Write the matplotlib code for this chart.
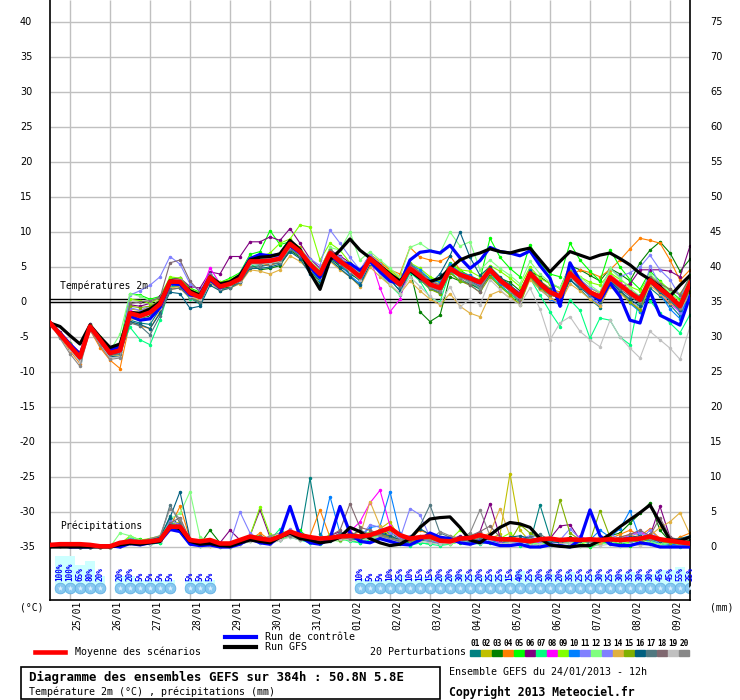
import matplotlib
matplotlib.use("Agg")
import matplotlib.pyplot as plt
import matplotlib.transforms as mtransforms
from matplotlib.lines import Line2D
from matplotlib.patches import Rectangle
import numpy as np

W, H = 740, 700
MONO = "DejaVu Sans Mono"

# forecast steps, 6h apart from the 24/01 12h run (0..384h)
hours = np.arange(0, 385, 6)

date_hours = [12, 36, 60, 84, 108, 132, 156, 180, 204, 228, 252, 276, 300, 324, 348, 372]
date_labels = ["25/01", "26/01", "27/01", "28/01", "29/01", "30/01", "31/01", "01/02",
               "02/02", "03/02", "04/02", "05/02", "06/02", "07/02", "08/02", "09/02"]

pert_colors = ["#008080", "#c0c000", "#008000", "#ff8000", "#00ff00", "#800080", "#00ff80",
               "#ff00ff", "#80ff00", "#0080ff", "#8080ff", "#80ff80", "#8080ff", "#e0b040",
               "#80b000", "#006080", "#507880", "#806870", "#c0c0c0", "#888888"]

# ---- temperature 2m (degC) ----
t_mean = [-3.0, -4.6, -6.3, -7.9, -3.5, -5.4, -7.3, -6.9, -1.6, -2.0, -1.5, -0.3, 2.9, 2.9, 1.3, 0.7,
          3.5, 2.2, 2.6, 3.3, 5.8, 5.8, 5.9, 6.2, 8.3, 7.2, 5.4, 4.0, 7.0, 5.8, 4.8, 3.6,
          6.2, 5.0, 3.7, 2.5, 4.8, 3.7, 2.5, 2.0, 4.8, 3.9, 3.4, 2.8, 4.6, 3.1, 2.0, 0.8,
          4.1, 2.6, 1.4, 0.8, 4.1, 2.7, 1.4, 0.7, 3.5, 2.4, 1.3, 0.3, 3.1, 1.9, 0.8, -0.6, 2.7]
t_ctrl = [-3.0, -4.4, -6.0, -7.5, -3.6, -5.2, -6.8, -6.4, -2.0, -2.6, -2.4, -0.8, 2.6, 2.5, 1.0, 0.8,
          3.2, 2.0, 2.8, 3.8, 6.2, 6.8, 6.6, 6.8, 8.0, 7.0, 5.0, 3.5, 6.6, 5.6, 5.5, 4.5,
          5.8, 4.3, 3.0, 2.6, 6.0, 7.1, 7.3, 7.0, 8.1, 6.3, 4.8, 5.9, 7.8, 7.2, 7.0, 6.6,
          7.3, 5.2, 3.4, -0.6, 5.6, 3.0, 1.3, 0.2, 2.7, 0.8, -2.6, -3.0, 1.5, -1.9, -2.6, -3.3, 0.8]
t_gfs = [-3.0, -3.5, -4.8, -6.0, -3.3, -5.0, -6.5, -6.0, -1.5, -1.6, -1.0, 0.0, 3.0, 2.8, 1.6, 1.0,
         3.6, 2.6, 2.9, 3.8, 6.0, 6.4, 6.5, 6.9, 8.8, 7.5, 4.2, 1.8, 6.0, 7.4, 9.0, 7.4,
         6.3, 5.2, 4.0, 3.0, 4.5, 3.4, 2.9, 3.4, 4.8, 6.0, 6.6, 7.0, 7.6, 7.2, 7.0, 7.4,
         7.7, 6.0, 4.3, 5.8, 7.2, 6.7, 6.2, 6.7, 7.0, 6.2, 5.3, 4.1, 3.2, 2.2, 0.8, 2.4, 3.8]
t_pert = [
    [-3.0, -4.9, -6.7, -8.4, -3.8, -5.9, -7.8, -7.5, -2.6, -3.0, -3.2, -1.0, 2.2, 2.4, 0.6, -0.3,
     3.0, 1.9, 2.1, 2.8, 5.0, 5.2, 5.3, 5.6, 7.6, 6.6, 4.6, 2.6, 6.4, 5.0, 4.2, 3.0,
     5.8, 4.4, 3.2, 1.6, 4.2, 3.2, 2.0, 1.2, 4.2, 3.0, 2.6, 1.8, 3.8, 2.4, 1.2, 0.0,
     3.4, 1.8, 0.6, -0.4, 3.2, 1.8, 0.4, -0.8, 2.6, 1.4, 0.2, -1.4, 2.0, 0.8, -0.4, -2.0, 1.2],
    [-3.0, -4.5, -6.0, -7.6, -3.4, -5.2, -7.0, -6.6, -1.0, -1.2, -0.8, 0.4, 3.2, 3.4, 1.8, 1.2,
     4.0, 2.6, 3.0, 3.8, 6.2, 6.0, 6.4, 6.8, 8.8, 7.8, 5.8, 4.4, 7.6, 6.2, 5.4, 4.2,
     6.8, 5.8, 4.6, 3.4, 5.6, 4.2, 3.0, 2.6, 5.2, 4.4, 3.8, 3.0, 5.0, 3.4, 2.4, 1.0,
     4.6, 3.0, 2.0, 1.4, 4.6, 3.2, 2.0, 1.2, 4.0, 2.8, 1.8, 0.6, 3.6, 2.4, 1.2, 0.2, 3.4],
    [-3.0, -4.7, -6.4, -8.0, -3.5, -5.6, -7.6, -7.2, -2.2, -2.4, -2.0, -0.8, 2.4, 2.2, 0.8, 0.2,
     3.0, 1.8, 2.2, 3.0, 5.4, 4.6, 4.8, 5.2, 7.4, 6.4, 4.6, 3.0, 6.2, 5.2, 4.0, 3.2,
     5.6, 4.6, 3.4, 2.2, 4.6, -1.4, -2.8, -1.9, 3.6, 3.0, 2.6, 2.0, 4.0, 3.4, 2.8, 1.6,
     4.4, 3.6, 2.6, 2.0, 5.2, 4.6, 3.8, 3.0, 4.8, 4.0, 3.0, 5.6, 7.4, 8.6, 7.0, 4.4, 6.1],
    [-3.0, -5.0, -7.0, -8.8, -4.0, -6.5, -8.3, -9.5, -2.8, -3.4, -3.8, -1.4, 1.8, 2.0, 0.6, 0.0,
     3.2, 2.0, 2.4, 3.0, 5.4, 5.6, 5.2, 5.8, 7.8, 6.6, 5.0, 3.6, 6.6, 5.8, 4.8, 3.8,
     6.6, 5.6, 4.6, 4.0, 7.8, 6.4, 6.0, 5.8, 6.6, 4.6, 3.2, 2.2, 4.2, 3.0, 1.8, 0.8,
     3.8, 2.6, 1.6, 1.4, 3.6, 4.6, 4.2, 3.6, 4.6, 6.0, 7.6, 9.1, 8.8, 8.4, 6.0, 3.1, 4.6],
    [-3.0, -4.4, -6.0, -7.4, -3.2, -5.0, -6.8, -6.2, 1.2, 1.0, 0.4, 0.8, 3.4, 3.4, 2.0, 1.4,
     4.0, 2.8, 3.4, 4.2, 6.8, 7.2, 10.2, 8.2, 8.6, 7.4, 5.6, 4.4, 7.6, 6.0, 5.0, 4.0,
     6.6, 5.0, 3.6, 2.8, 5.4, 4.2, 3.4, 2.8, 5.6, 4.6, 3.6, 3.2, 9.1, 6.4, 4.8, 3.6,
     8.2, 5.6, 4.0, 3.6, 8.4, 6.0, 4.4, 3.0, 7.5, 5.0, 3.2, 1.8, 4.4, 3.0, 1.6, 0.4, 3.8],
    [-3.0, -4.3, -5.9, -7.2, -3.2, -5.3, -7.1, -6.5, -0.4, -0.6, -0.2, 0.8, 3.2, 3.4, 2.2, 2.0,
     4.3, 4.0, 6.5, 6.5, 8.6, 8.6, 9.3, 8.8, 10.5, 8.4, 6.2, 4.8, 7.4, 6.6, 5.6, 4.4,
     6.8, 5.2, 4.0, 3.0, 5.0, 3.8, 2.8, 2.2, 5.2, 4.0, 3.2, 2.4, 4.8, 3.2, 2.0, 1.0,
     4.2, 2.8, 1.6, 1.0, 4.0, 2.6, 1.2, 0.4, 3.4, 2.2, 2.6, 4.6, 4.6, 4.6, 4.4, 3.6, 8.0],
    [-3.0, -4.6, -6.2, -7.6, -3.6, -5.6, -7.4, -7.0, -3.6, -5.4, -6.1, -2.6, 2.2, 2.6, 0.4, 0.2,
     3.4, 2.2, 2.4, 3.2, 5.2, 5.4, 5.6, 5.8, 7.6, 6.8, 5.6, 4.0, 7.2, 5.6, 4.4, 3.4,
     5.8, 4.0, 2.4, 1.0, 4.2, 3.0, 0.6, 0.0, 4.4, 3.0, 2.8, 2.0, 4.2, 2.2, 1.2, 0.0,
     3.4, 1.0, -1.4, -3.5, 0.3, -1.2, -5.2, -2.3, -2.6, -5.0, -6.1, 1.0, 0.2, -1.6, -3.0, -4.4, -1.8],
    [-3.0, -4.5, -6.1, -7.8, -3.4, -5.3, -7.2, -6.8, -1.2, -1.8, -1.0, -0.2, 3.0, 3.0, 1.6, 1.0,
     4.9, 2.6, 2.8, 3.4, 5.8, 6.2, 6.0, 6.4, 8.6, 7.4, 5.4, 4.2, 7.2, 6.0, 5.0, 3.8,
     6.4, 2.0, -1.4, 0.4, 5.2, 4.0, 2.4, 1.6, 5.0, 4.2, 3.6, 2.8, 4.4, 3.2, 2.2, 1.4,
     4.0, 2.2, 1.0, 0.6, 4.4, 3.0, 1.2, 1.2, 3.8, 2.8, 1.6, 0.4, 2.8, 1.2, -0.2, -1.4, 2.2],
    [-3.0, -4.4, -5.9, -7.4, -3.3, -5.0, -6.8, -6.4, 0.4, 0.2, -0.2, 0.6, 3.6, 3.4, 1.8, 1.2,
     3.8, 2.8, 3.2, 4.0, 6.4, 6.4, 7.0, 8.4, 9.0, 11.0, 10.7, 6.0, 8.4, 7.4, 5.6, 4.2,
     6.6, 5.2, 4.4, 3.2, 5.6, 4.8, 3.6, 3.0, 5.4, 4.6, 4.4, 3.6, 5.2, 4.4, 3.4, 2.2,
     5.0, 3.4, 2.6, 2.0, 4.6, 3.6, 2.8, 2.4, 4.2, 3.2, 2.2, 1.6, 3.8, 2.8, 1.8, 1.2, 3.0],
    [-3.0, -4.7, -6.5, -8.1, -3.7, -5.6, -7.5, -7.2, -1.8, -2.2, -1.6, -0.6, 2.6, 2.6, 1.2, 0.6,
     3.4, 2.0, 2.6, 3.2, 5.6, 5.8, 6.0, 6.4, 8.0, 6.8, 4.6, 3.2, 6.6, 5.4, 3.8, 2.6,
     6.0, 4.6, 3.2, 2.2, 5.4, 4.6, 3.2, 2.8, 5.4, 4.2, 3.8, 3.0, 4.4, 2.6, 1.6, 0.4,
     4.6, 2.4, 0.4, -0.4, 4.8, 2.6, 0.6, -0.4, 3.4, 1.8, -0.2, -1.4, 3.0, 1.2, -1.0, -2.4, 2.0],
    [-3.0, -4.6, -6.3, -7.9, -3.6, -5.9, -7.4, -7.0, 1.0, 1.6, 2.4, 3.6, 6.5, 5.4, 2.6, 1.6,
     4.0, 2.6, 3.0, 3.6, 6.0, 6.2, 6.4, 6.6, 8.2, 7.4, 6.2, 5.2, 10.3, 8.4, 6.4, 4.6,
     6.8, 5.4, 4.0, 2.6, 5.0, 4.0, 3.0, 2.4, 4.8, 3.8, 3.0, 2.2, 4.6, 3.4, 2.4, 1.2,
     4.2, 2.8, 1.8, 1.2, 4.6, 3.2, 2.0, 1.4, 4.8, 3.6, 4.2, 5.0, 6.7, 4.6, 3.2, 0.8, 3.0],
    [-3.0, -4.4, -6.1, -7.6, -3.4, -5.2, -7.0, -4.6, 1.2, 0.8, 0.2, 0.6, 3.0, 3.0, 1.6, 1.0,
     3.6, 2.6, 3.0, 3.6, 6.0, 6.2, 6.4, 6.8, 8.6, 7.6, 5.8, 4.6, 7.8, 7.4, 10.0, 6.0,
     7.2, 6.0, 4.8, 3.6, 7.8, 8.4, 7.4, 7.0, 10.0, 8.0, 8.6, 4.6, 6.0, 4.8, 3.8, 2.6,
     5.8, 4.0, 2.8, 2.0, 5.2, 3.6, 2.4, 1.4, 4.8, 3.4, 2.0, 0.8, 4.0, 2.6, 1.4, 0.0, 3.4],
    [-3.0, -4.5, -6.2, -7.8, -3.5, -5.4, -7.2, -6.8, -0.8, -1.2, -0.6, 0.2, 3.0, 3.2, 1.6, 1.0,
     3.6, 2.4, 2.8, 3.6, 6.2, 6.0, 6.2, 6.6, 8.4, 7.2, 5.4, 4.2, 7.2, 6.4, 5.2, 4.0,
     6.4, 5.0, 3.8, 3.0, 5.0, 3.6, 2.2, 1.6, 4.8, 3.6, 2.8, 2.4, 4.4, 3.0, 1.6, 0.4,
     3.8, 1.8, 0.6, -0.4, 3.8, 2.2, 0.8, -0.4, 3.2, 1.4, 0.2, -1.0, 5.2, 2.4, 0.4, -1.6, 1.8],
    [-3.0, -4.7, -6.4, -8.0, -3.6, -5.6, -7.6, -7.6, -2.4, -2.6, -2.2, -1.0, 2.0, 2.2, 0.8, 0.2,
     2.8, 1.6, 2.0, 2.6, 4.6, 4.4, 4.0, 4.6, 6.6, 5.8, 4.4, 2.4, 5.8, 4.6, 3.6, 2.2,
     5.0, 3.6, 2.4, 1.2, 3.0, 1.6, 0.4, -0.4, 1.2, -0.6, -1.6, -2.1, 1.0, 1.6, 0.6, -0.2,
     3.2, 1.8, 0.6, -0.2, 2.6, 1.6, 0.4, -0.6, 2.2, 1.2, 0.0, -1.0, 2.4, 1.2, -0.2, -1.0, 1.0],
    [-3.0, -4.6, -6.2, -7.8, -3.5, -5.4, -7.2, -6.8, -0.6, -0.8, -0.6, 0.2, 3.0, 2.8, 1.4, 0.8,
     3.6, 2.4, 2.6, 3.4, 5.8, 5.6, 5.6, 6.0, 8.0, 7.0, 5.2, 3.8, 6.8, 5.8, 4.6, 3.4,
     6.2, 4.8, 3.6, 2.6, 4.6, 3.2, 1.8, 1.2, 4.2, 3.0, 2.4, 1.4, 3.6, 2.2, 1.0, -0.4,
     3.6, 2.0, 1.0, 0.6, 4.4, 2.8, 1.4, 0.6, 3.0, 1.6, 0.0, -1.2, 3.2, 1.8, 0.4, -0.8, 1.6],
    [-3.0, -4.8, -6.6, -8.3, -3.8, -5.8, -7.8, -7.8, -2.8, -3.2, -3.8, -1.6, 1.4, 1.2, -0.9, -0.6,
     2.4, 1.6, 2.0, 2.8, 4.8, 4.8, 5.0, 5.4, 7.2, 6.2, 4.0, 2.4, 6.0, 4.8, 3.6, 2.4,
     5.4, 4.4, 3.2, 1.6, 4.4, 3.6, 2.6, 4.0, 6.6, 10.0, 6.4, 3.8, 5.0, 3.6, 2.4, 1.2,
     4.4, 3.0, 1.8, 0.4, 3.2, 2.0, 1.0, 0.0, 3.0, 1.6, 0.4, -0.6, 2.8, 1.4, 0.2, -1.2, 2.2],
    [-3.0, -4.8, -6.5, -8.2, -3.6, -5.6, -7.6, -7.4, -3.0, -3.4, -4.7, -2.0, 1.8, 2.0, 0.6, 0.0,
     3.0, 1.8, 2.0, 2.8, 5.0, 5.0, 5.4, 5.6, 7.6, 6.6, 4.8, 3.4, 6.2, 5.4, 4.2, 3.2,
     5.8, 4.6, 3.2, 2.2, 4.4, 3.2, 2.0, 1.4, 4.4, 3.6, 3.0, 2.2, 4.2, 2.8, 1.6, 0.6,
     3.8, 2.2, 1.2, 0.4, 3.8, 2.2, 1.0, 0.2, 3.2, 1.8, 0.8, -0.2, 2.8, 1.6, 0.2, -1.0, 2.4],
    [-3.0, -4.5, -6.1, -7.7, -3.4, -5.3, -7.1, -6.6, -0.2, 0.0, 0.2, 0.6, 5.6, 6.0, 3.0, 1.4,
     3.8, 2.4, 2.8, 3.6, 6.0, 5.8, 6.0, 6.2, 8.2, 7.4, 5.6, 4.2, 7.4, 6.2, 5.0, 3.8,
     6.4, 5.2, 4.0, 3.0, 5.4, 4.2, 3.0, 2.4, 5.0, 3.4, 2.4, 1.4, 4.4, 2.8, 1.6, 0.0,
     3.8, 2.4, 1.2, 0.6, 4.0, 2.6, 1.6, 1.0, 3.6, 2.4, 1.6, 0.8, 3.6, 2.6, 1.8, 1.0, 3.6],
    [-3.0, -4.9, -6.8, -8.6, -3.9, -6.0, -8.0, -7.8, -2.0, -2.4, -2.2, -0.8, 2.6, 2.4, 0.8, 0.4,
     3.2, 2.0, 2.4, 3.0, 5.4, 5.4, 5.6, 5.8, 7.8, 6.8, 5.0, 3.6, 6.4, 5.6, 4.4, 3.2,
     5.6, 4.0, 2.6, 1.2, 3.6, 2.2, 0.8, -0.2, 2.2, -0.7, 0.4, -0.4, 3.2, 1.8, 0.4, -0.4,
     2.0, -1.0, -5.4, -3.0, -2.1, -4.2, -5.4, -6.4, -2.6, -5.0, -6.6, -8.0, -4.2, -5.4, -6.6, -8.2, -3.5],
    [-3.0, -5.2, -7.4, -9.2, -4.0, -6.2, -8.2, -8.0, -1.4, -1.8, -1.2, -0.2, 3.0, 2.8, 1.2, 0.8,
     3.2, 2.2, 2.6, 3.2, 5.6, 5.4, 5.8, 6.0, 8.2, 7.0, 5.4, 4.2, 7.0, 5.8, 4.8, 3.4,
     6.0, 4.8, 3.6, 2.4, 4.6, 3.4, 2.2, 1.6, 4.6, 3.6, 2.8, 2.0, 4.2, 2.8, 1.6, 0.6,
     4.0, 2.6, 1.4, 0.8, 3.6, 2.4, 1.2, 0.6, 3.2, 2.2, 1.2, 0.2, 2.8, 1.8, 0.8, -0.8, 2.6],
]

# ---- precipitation (mm / 6h) ----
p_mean = [0.3, 0.4, 0.4, 0.4, 0.3, 0.1, 0.1, 0.6, 0.8, 0.7, 0.8, 1.0, 2.9, 2.9, 1.0, 0.8,
          1.0, 0.5, 0.5, 1.0, 1.5, 1.2, 1.0, 1.5, 2.2, 1.7, 1.4, 1.2, 1.3, 1.5, 1.6, 1.5,
          1.7, 2.2, 2.7, 1.7, 1.2, 1.4, 1.5, 0.9, 0.8, 1.2, 1.3, 1.7, 1.3, 1.1, 1.1, 1.0,
          0.8, 1.1, 1.2, 1.0, 1.1, 1.0, 1.1, 1.0, 1.1, 1.0, 1.1, 1.2, 1.5, 1.1, 0.9, 0.7, 0.5]
p_ctrl = [0.3, 0.3, 0.0, 0.0, 0.0, 0.2, 0.2, 0.0, 0.5, 0.3, 0.6, 0.8, 2.5, 2.2, 0.4, 0.2,
          0.3, 0.0, 0.0, 0.4, 1.2, 0.6, 0.4, 1.6, 5.8, 1.5, 0.6, 0.4, 1.2, 5.8, 2.0, 0.8,
          0.6, 1.2, 0.8, 0.4, 0.3, 1.0, 2.0, 1.4, 1.2, 0.6, 0.4, 0.8, 0.6, 0.2, 0.2, 0.4,
          0.0, 0.0, 0.3, 0.2, 0.0, 1.0, 5.3, 1.6, 0.4, 0.2, 0.2, 0.6, 0.4, 0.0, 0.0, 0.0, 0.0]
p_gfs = [0.0, 0.0, 0.0, 0.0, 0.0, 0.0, 0.0, 0.3, 0.5, 0.4, 0.6, 0.8, 3.0, 2.6, 0.8, 0.4,
         0.5, 0.2, 0.1, 0.6, 1.0, 0.8, 0.6, 1.4, 2.0, 1.2, 1.0, 0.6, 0.8, 1.4, 2.8, 2.2,
         1.2, 0.6, 0.2, 0.4, 1.2, 2.8, 4.0, 4.2, 4.3, 2.8, 1.0, 0.6, 1.7, 2.8, 3.5, 3.3,
         2.8, 1.2, 0.3, 0.1, 0.0, 0.2, 0.2, 0.9, 1.8, 2.9, 3.9, 4.9, 6.0, 3.5, 1.0, 0.9, 1.4]
p_pert = [
    [0.3, 0.3, 0.2, 0.0, 0.0, 0.0, 0.0, 0.2, 0.6, 0.4, 0.8, 1.2, 4.4, 3.0, 0.6, 0.3,
     0.4, 0.2, 0.0, 0.6, 1.2, 1.0, 0.8, 1.6, 2.0, 1.4, 9.8, 1.8, 0.8, 1.2, 1.4, 1.0,
     1.6, 2.4, 1.8, 0.8, 0.6, 1.0, 0.8, 0.4, 0.6, 1.2, 0.8, 1.4, 1.0, 0.6, 0.8, 1.2,
     0.6, 6.0, 1.4, 0.6, 0.8, 1.0, 0.4, 0.6, 0.8, 0.4, 0.6, 1.2, 1.0, 0.6, 0.4, 0.2, 0.0],
    [0.2, 0.2, 0.3, 0.2, 0.0, 0.0, 0.0, 0.4, 1.2, 0.6, 1.0, 0.8, 3.2, 3.6, 1.0, 0.4,
     0.6, 0.2, 0.2, 0.8, 1.4, 0.8, 1.2, 1.8, 2.4, 1.6, 1.2, 0.8, 1.4, 1.8, 2.2, 1.4,
     1.4, 2.6, 3.6, 1.2, 0.8, 1.4, 1.0, 0.6, 0.4, 0.8, 1.4, 2.0, 1.2, 1.8, 10.5, 2.4,
     0.8, 0.6, 1.0, 0.8, 1.2, 0.6, 0.8, 1.4, 0.6, 0.8, 1.2, 0.6, 1.8, 0.8, 0.6, 1.4, 0.8],
    [0.4, 0.3, 0.2, 0.0, 0.0, 0.0, 0.0, 0.6, 1.0, 1.0, 0.6, 0.8, 3.6, 2.4, 0.8, 0.4,
     2.4, 0.6, 0.2, 0.4, 0.8, 1.2, 0.6, 1.0, 1.8, 1.6, 0.8, 0.6, 1.0, 1.4, 2.0, 0.8,
     1.2, 1.6, 2.2, 1.0, 0.8, 1.6, 1.2, 0.4, 0.6, 1.0, 1.4, 0.8, 1.2, 1.0, 0.6, 1.0,
     0.8, 1.4, 0.6, 0.8, 1.4, 1.0, 0.6, 1.2, 1.6, 2.0, 3.4, 4.8, 6.3, 2.4, 0.8, 0.6, 1.0],
    [0.2, 0.3, 0.3, 0.0, 0.0, 0.0, 0.0, 0.2, 0.6, 0.8, 1.2, 1.4, 2.8, 5.8, 1.2, 0.4,
     0.2, 0.4, 0.0, 0.6, 1.0, 2.0, 1.0, 1.4, 1.8, 1.0, 1.6, 5.3, 1.4, 1.0, 1.6, 2.2,
     1.8, 1.4, 1.2, 0.8, 1.2, 2.4, 1.8, 1.0, 0.6, 1.4, 1.2, 0.6, 1.6, 1.0, 0.8, 0.4,
     1.2, 0.6, 0.8, 1.0, 0.6, 1.4, 0.8, 0.6, 1.2, 1.8, 2.4, 1.6, 2.6, 1.2, 0.4, 1.4, 2.0],
    [0.3, 0.3, 0.2, 0.0, 0.0, 0.0, 0.0, 0.4, 0.8, 1.2, 0.4, 0.6, 3.4, 2.6, 0.6, 0.2,
     0.4, 0.0, 0.4, 0.6, 1.4, 1.6, 0.8, 1.0, 1.6, 2.4, 1.0, 0.8, 1.2, 1.6, 1.0, 0.6,
     1.4, 1.8, 1.4, 0.6, 1.2, 0.6, 0.4, 1.0, 1.2, 0.6, 1.8, 0.8, 0.6, 1.0, 1.4, 0.8,
     0.6, 0.2, 0.8, 1.2, 0.6, 0.2, 0.0, 0.4, 0.8, 0.4, 0.2, 0.6, 0.4, 0.8, 0.6, 0.4, 0.2],
    [0.3, 0.2, 0.2, 0.0, 0.0, 0.0, 0.0, 0.2, 0.8, 0.6, 0.6, 1.0, 3.0, 3.4, 0.8, 0.4,
     0.8, 0.6, 2.4, 1.0, 1.6, 5.3, 1.4, 1.2, 2.2, 1.8, 1.2, 1.0, 1.6, 2.2, 1.4, 1.0,
     1.8, 2.2, 1.4, 0.8, 1.0, 1.4, 0.8, 0.6, 1.0, 1.6, 1.2, 2.2, 6.2, 1.4, 0.6, 1.0,
     1.4, 0.8, 1.2, 3.0, 3.2, 1.0, 0.8, 0.6, 1.2, 0.8, 1.4, 1.0, 1.6, 5.8, 1.4, 0.6, 0.8],
    [0.3, 0.3, 0.2, 0.0, 0.0, 0.0, 0.0, 0.4, 1.4, 0.8, 0.4, 0.6, 2.8, 3.0, 1.0, 0.2,
     0.4, 0.2, 0.0, 0.8, 1.2, 0.6, 1.0, 2.6, 1.4, 1.0, 0.6, 0.4, 1.0, 1.2, 0.8, 0.6,
     1.0, 1.4, 1.0, 0.4, 0.2, 0.6, 0.4, 0.2, 0.4, 0.8, 0.6, 0.4, 0.8, 0.6, 0.4, 0.2,
     0.4, 0.6, 0.2, 0.4, 0.8, 0.4, 0.2, 0.6, 0.4, 0.2, 0.6, 0.4, 0.8, 0.4, 0.2, 0.0, 0.2],
    [0.2, 0.3, 0.2, 0.0, 0.0, 0.0, 0.0, 0.2, 0.6, 0.8, 0.6, 1.0, 2.6, 3.2, 0.8, 0.6,
     0.4, 0.2, 0.6, 1.0, 1.4, 0.8, 0.6, 1.2, 2.4, 1.2, 0.8, 1.0, 1.4, 1.8, 2.2, 3.6,
     6.3, 8.1, 3.0, 1.4, 0.8, 1.2, 1.6, 0.6, 0.8, 1.0, 1.4, 0.8, 1.2, 0.6, 0.4, 0.8,
     1.0, 0.6, 1.4, 0.8, 1.0, 1.6, 0.8, 1.2, 1.4, 1.0, 1.8, 2.2, 1.4, 0.8, 0.4, 0.6, 0.6],
    [0.3, 0.4, 0.3, 0.0, 0.0, 0.0, 0.0, 0.4, 1.6, 1.0, 1.2, 1.6, 3.8, 2.6, 0.8, 0.4,
     0.6, 0.4, 0.2, 1.0, 1.6, 5.7, 1.8, 1.2, 1.8, 1.4, 1.0, 0.8, 1.8, 1.2, 1.0, 1.4,
     2.2, 1.8, 2.4, 1.6, 1.0, 1.2, 0.8, 1.4, 1.0, 2.4, 1.2, 0.8, 1.4, 1.2, 2.0, 0.6,
     1.0, 0.8, 0.6, 1.2, 1.0, 0.4, 0.8, 0.6, 1.0, 0.8, 0.6, 1.4, 1.0, 0.6, 0.8, 0.4, 0.6],
    [0.2, 0.3, 0.2, 0.0, 0.0, 0.0, 0.0, 0.2, 0.8, 0.6, 0.8, 1.0, 3.4, 3.0, 0.6, 0.4,
     0.4, 0.2, 0.2, 0.6, 1.0, 1.4, 1.0, 1.6, 1.6, 2.0, 1.4, 1.0, 7.2, 2.0, 1.6, 1.4,
     2.8, 3.0, 7.9, 2.0, 1.0, 1.4, 0.8, 1.0, 0.6, 0.8, 1.0, 1.6, 1.0, 0.4, 0.6, 0.8,
     0.4, 1.0, 0.6, 0.8, 0.4, 0.6, 1.0, 2.4, 1.4, 2.6, 5.2, 1.2, 0.8, 0.6, 0.4, 0.2, 0.4],
    [0.3, 0.3, 0.2, 0.0, 0.0, 0.0, 0.0, 0.3, 1.2, 0.8, 1.0, 1.4, 3.0, 2.8, 0.8, 0.2,
     0.6, 0.2, 0.6, 5.0, 2.0, 1.0, 1.4, 1.0, 2.6, 1.4, 1.0, 0.6, 1.2, 1.6, 1.2, 1.0,
     1.4, 2.0, 1.6, 1.2, 5.5, 4.6, 1.4, 1.0, 0.8, 1.2, 1.6, 1.0, 0.8, 1.4, 1.0, 1.2,
     1.6, 0.8, 0.6, 1.0, 2.6, 1.2, 0.8, 1.0, 1.4, 1.0, 1.6, 2.0, 1.2, 0.6, 1.0, 0.8, 0.4],
    [0.4, 0.3, 0.3, 0.0, 0.0, 0.0, 0.0, 2.0, 1.6, 1.0, 0.8, 1.2, 4.0, 4.8, 7.9, 1.4,
     0.8, 0.4, 0.2, 0.8, 1.4, 1.0, 0.8, 1.2, 1.6, 1.2, 1.4, 1.2, 1.0, 0.8, 1.2, 1.0,
     1.2, 1.6, 1.0, 0.8, 1.2, 1.4, 1.0, 0.6, 0.4, 0.8, 1.0, 0.6, 0.8, 0.4, 0.6, 0.8,
     0.6, 0.4, 0.8, 0.6, 0.4, 0.6, 0.8, 0.4, 0.6, 0.8, 0.4, 0.6, 0.8, 0.4, 0.6, 0.4, 0.2],
    [0.3, 0.2, 0.2, 0.0, 0.0, 0.0, 0.0, 0.2, 0.6, 0.6, 0.4, 0.8, 3.8, 3.2, 1.0, 0.4,
     0.6, 0.2, 0.4, 0.8, 1.2, 1.0, 0.6, 1.4, 2.2, 1.6, 1.0, 1.2, 1.4, 1.0, 1.6, 1.2,
     3.2, 2.8, 2.0, 1.4, 1.6, 1.2, 0.8, 0.6, 1.0, 1.2, 0.8, 0.6, 1.4, 1.0, 0.8, 0.6,
     1.2, 1.0, 0.8, 0.6, 1.0, 1.4, 1.0, 0.6, 1.8, 1.2, 0.8, 1.0, 2.4, 1.0, 0.6, 0.8, 0.6],
    [0.2, 0.3, 0.2, 0.0, 0.0, 0.0, 0.0, 0.2, 0.8, 0.6, 0.6, 1.0, 3.0, 2.6, 0.6, 0.4,
     0.2, 0.2, 0.2, 0.6, 1.2, 0.8, 1.0, 1.6, 2.0, 1.4, 1.2, 0.8, 1.6, 1.4, 1.8, 1.6,
     6.5, 3.0, 1.6, 1.0, 0.8, 1.2, 1.4, 1.0, 1.6, 1.2, 1.0, 1.4, 2.0, 5.5, 1.6, 1.0,
     0.8, 1.2, 1.0, 0.6, 0.8, 1.0, 1.2, 0.6, 1.0, 1.4, 1.8, 1.2, 1.6, 2.8, 3.6, 4.9, 1.8],
    [0.3, 0.3, 0.2, 0.0, 0.0, 0.0, 0.0, 0.3, 0.8, 0.6, 0.6, 0.8, 3.2, 3.0, 0.8, 0.4,
     0.4, 0.2, 0.2, 0.8, 1.2, 1.0, 0.8, 1.4, 1.8, 1.2, 1.0, 0.8, 1.2, 1.0, 1.4, 1.0,
     1.6, 1.8, 1.4, 1.0, 0.8, 1.0, 1.2, 0.8, 1.0, 0.8, 1.2, 1.6, 1.4, 1.0, 0.8, 3.2,
     2.0, 1.2, 1.0, 6.7, 2.0, 1.0, 0.8, 5.2, 1.4, 0.8, 1.0, 0.6, 1.2, 0.8, 0.6, 0.4, 0.4],
    [0.2, 0.3, 0.2, 0.0, 0.0, 0.0, 0.0, 0.3, 1.0, 0.8, 1.0, 1.4, 4.2, 7.9, 1.2, 0.6,
     0.8, 0.4, 0.2, 0.8, 1.0, 1.2, 1.0, 1.6, 2.0, 1.6, 1.2, 1.0, 1.4, 1.6, 1.2, 1.0,
     1.8, 2.0, 1.6, 1.0, 1.4, 2.6, 1.8, 1.2, 1.0, 1.4, 1.0, 0.8, 1.2, 1.0, 1.4, 1.6,
     1.2, 1.0, 0.8, 0.6, 1.0, 0.8, 1.2, 1.0, 0.8, 1.2, 1.4, 1.6, 1.2, 0.8, 1.0, 1.2, 1.6],
    [0.3, 0.3, 0.2, 0.0, 0.0, 0.0, 0.0, 0.2, 0.6, 0.6, 0.8, 1.2, 6.0, 3.4, 0.8, 0.4,
     0.4, 0.2, 0.4, 0.6, 1.0, 1.4, 1.2, 1.4, 1.8, 1.4, 1.0, 0.8, 1.2, 2.0, 1.6, 2.4,
     1.8, 1.6, 1.2, 0.8, 1.2, 3.0, 6.0, 2.0, 1.4, 1.0, 0.8, 1.2, 1.6, 1.0, 1.2, 0.8,
     1.4, 1.8, 1.0, 0.8, 1.2, 1.0, 0.6, 1.0, 1.2, 0.8, 1.0, 1.4, 1.8, 1.2, 0.8, 0.6, 0.6],
    [0.2, 0.3, 0.2, 0.0, 0.0, 0.0, 0.0, 0.2, 0.8, 0.8, 0.6, 1.0, 3.4, 4.2, 1.0, 0.4,
     0.4, 0.2, 0.6, 0.8, 1.2, 1.6, 1.0, 1.4, 1.6, 1.4, 1.2, 1.0, 1.6, 2.4, 6.2, 2.8,
     2.4, 1.8, 1.2, 0.8, 1.0, 1.4, 1.6, 1.0, 0.8, 1.2, 1.6, 2.2, 3.0, 1.4, 1.0, 0.8,
     1.0, 1.4, 1.2, 0.8, 1.2, 1.0, 0.8, 1.2, 1.0, 1.4, 1.8, 2.4, 1.6, 4.2, 1.4, 1.0, 0.8],
    [0.2, 0.2, 0.2, 0.0, 0.0, 0.0, 0.0, 0.2, 0.6, 0.6, 0.4, 0.8, 2.6, 2.4, 0.6, 0.2,
     0.2, 0.0, 0.0, 0.4, 0.8, 0.6, 0.4, 1.0, 1.4, 1.0, 0.8, 0.6, 1.0, 1.2, 1.0, 0.8,
     1.2, 1.4, 1.0, 0.6, 0.4, 0.8, 0.6, 0.4, 0.6, 0.8, 0.4, 0.6, 0.8, 0.4, 0.6, 0.4,
     0.2, 0.4, 0.2, 0.4, 0.6, 0.2, 0.4, 0.2, 0.4, 0.2, 0.4, 0.2, 0.4, 0.2, 0.0, 0.2, 0.0],
    [0.3, 0.3, 0.2, 0.0, 0.0, 0.0, 0.0, 0.4, 1.0, 0.8, 1.2, 1.6, 5.5, 4.0, 0.8, 0.6,
     0.6, 0.4, 0.2, 0.8, 1.2, 1.0, 1.6, 2.0, 1.6, 1.2, 1.0, 0.8, 1.2, 1.4, 1.2, 1.6,
     2.0, 1.6, 1.2, 1.0, 1.4, 1.2, 1.0, 2.2, 1.6, 1.2, 2.0, 5.3, 1.6, 1.2, 1.0, 0.8,
     1.2, 1.0, 1.4, 0.8, 1.0, 1.2, 0.8, 1.0, 1.2, 0.8, 1.0, 1.4, 1.2, 1.0, 0.8, 0.6, 0.4],
]

# snow probability (%) shown under the chart, by forecast step index
snow_steps = [1, 2, 3, 4, 5, 7, 8, 9, 10, 11, 12, 14, 15, 16,
              31, 32, 33, 34, 35, 36, 37, 38, 39, 40, 41, 42, 43, 44, 45, 46, 47,
              48, 49, 50, 51, 52, 53, 54, 55, 56, 57, 58, 59, 60, 61, 62, 63, 64]
snow_pct = [100, 100, 65, 80, 20, 20, 20, 5, 5, 5, 5, 5, 5, 5,
            10, 5, 5, 10, 25, 10, 15, 15, 20, 20, 30, 25, 20, 25, 25, 15, 40,
            25, 20, 30, 20, 35, 25, 25, 30, 25, 30, 35, 30, 30, 45, 45, 55, 35]

PRECIP_ZERO = -35     # precip 0 mm sits on the -35 degC line, same scale


def fx(px):
    return px / W


def fy(py):
    return 1 - py / H


def t_of_py(py):
    # temperature value at a given pixel row (7 px per degree, 0 at row 302)
    return (302 - py) / 7.0


fig = plt.figure(figsize=(W / 100, H / 100), dpi=100)
fig.patch.set_facecolor("white")
ax = fig.add_axes([fx(50), fy(600), fx(690) - fx(50), fy(0) - fy(600)])
ax.set_xlim(0, 384)
ax.set_ylim(t_of_py(600), t_of_py(0))
ax.set_xticks([])
ax.set_yticks([])
ax.spines["top"].set_visible(False)
for s in ("left", "right", "bottom"):
    ax.spines[s].set_linewidth(1.2)
    ax.spines[s].set_color("black")

ax.hlines(np.arange(-35, 41, 5), 0, 384, color="#c0c0c0", lw=1, zorder=0)
ax.vlines(date_hours, t_of_py(600), t_of_py(0), color="#c0c0c0", lw=1, zorder=0)
ax.axhline(0.05, color="black", lw=1, zorder=1)
ax.axhline(0.42, color="black", lw=1, zorder=1)

# ensemble members
for k in range(20):
    ax.plot(hours, t_pert[k], color=pert_colors[k], lw=0.8, marker=".", ms=3, zorder=2)
    ax.plot(hours, np.array(p_pert[k]) + PRECIP_ZERO, color=pert_colors[k], lw=0.8,
            marker=".", ms=3, zorder=2)

ax.plot(hours, t_ctrl, color="#0000ff", lw=2.3, zorder=3)
ax.plot(hours, np.array(p_ctrl) + PRECIP_ZERO, color="#0000ff", lw=2.3, zorder=3)
ax.plot(hours, t_gfs, color="black", lw=2.3, zorder=3.5)
ax.plot(hours, np.array(p_gfs) + PRECIP_ZERO, color="black", lw=2.3, zorder=3.5)
ax.plot(hours, t_mean, color="#ff0000", lw=3.3, zorder=4)
ax.plot(hours, np.array(p_mean) + PRECIP_ZERO, color="#ff0000", lw=3.3, zorder=4)

ax.text(10 * 0.6, t_of_py(286), "Températures 2m", family=MONO, fontsize=7,
        va="center", ha="left", zorder=5)
ax.text(10 * 0.6, t_of_py(526), "Précipitations", family=MONO, fontsize=7,
        va="center", ha="left", zorder=5)

# snow probability strip
snow_h = [hours[i] for i in snow_steps]
box_bottom = t_of_py(593)
box_height = [(12 + 0.25 * p) / 7.0 for p in snow_pct]
ax.bar(snow_h, box_height, bottom=box_bottom, width=6, color="#ccffff",
       edgecolor="none", zorder=1.5)
flake_y = t_of_py(588)
ax.scatter(snow_h, [flake_y] * len(snow_h), s=60, color="#86c8f0", edgecolor="#5aa8e0",
           linewidths=0.5, zorder=2.5)
ax.scatter(snow_h, [flake_y] * len(snow_h), s=18, marker="*", color="#d8f0ff",
           linewidths=0, zorder=2.6)
for h, p in zip(snow_h, snow_pct):
    ax.text(h, t_of_py(581), f"{p}%", rotation=90, ha="center", va="bottom",
            color="#0000ff", fontsize=5.5, family=MONO, fontweight="bold", zorder=3)

# axis labels
ytrans = mtransforms.blended_transform_factory(fig.transFigure, ax.transData)
for v in range(-35, 41, 5):
    ax.text(fx(20), v, str(v), transform=ytrans, ha="left", va="center",
            fontsize=7, clip_on=False)
    ax.text(fx(710), v, str(v + 35), transform=ytrans, ha="left", va="center",
            fontsize=7, clip_on=False)

xtrans = mtransforms.blended_transform_factory(ax.transData, fig.transFigure)
for h, lab in zip(date_hours, date_labels):
    ax.text(h + 1.2, fy(601), lab, transform=xtrans, rotation=90, ha="left", va="top",
            family=MONO, fontsize=7, clip_on=False)

fig.text(fx(20), fy(607), "(°C)", family=MONO, fontsize=7, va="center", ha="left")
fig.text(fx(710), fy(608), "(mm)", family=MONO, fontsize=7, va="center", ha="left")

# legend
fig.add_artist(Line2D([fx(35), fx(65)], [fy(651.5)] * 2, color="#ff0000", lw=3.3))
fig.text(fx(75), fy(652), "Moyenne des scénarios", family=MONO, fontsize=7.2, va="center")
fig.add_artist(Line2D([fx(225), fx(256)], [fy(636.5)] * 2, color="#0000ff", lw=3.0))
fig.text(fx(265), fy(637), "Run de contrôle", family=MONO, fontsize=7.2, va="center")
fig.add_artist(Line2D([fx(225), fx(256)], [fy(646.5)] * 2, color="black", lw=3.0))
fig.text(fx(265), fy(647), "Run GFS", family=MONO, fontsize=7.2, va="center")
fig.text(fx(370), fy(652), "20 Perturbations", family=MONO, fontsize=7.2, va="center")
for k, c in enumerate(pert_colors):
    x0 = 470 + 11 * k
    fig.add_artist(Rectangle((fx(x0), fy(655.5)), fx(10), 5.5 / H, color=c,
                             transform=fig.transFigure))
    fig.text(fx(x0 + 5), fy(643.5), f"{k + 1:02d}", family=MONO, fontsize=5.6,
             ha="center", va="center", fontweight="bold")

# title box
fig.add_artist(Rectangle((fx(21), fy(699)), fx(440 - 21), 32 / H, fill=False,
                         edgecolor="black", lw=1.2, transform=fig.transFigure))
fig.text(fx(29), fy(677.5), "Diagramme des ensembles GEFS sur 384h : 50.8N 5.8E",
         family=MONO, fontsize=8.9, fontweight="bold", va="center")
fig.text(fx(29), fy(692), "Température 2m (°C) , précipitations (mm)",
         family=MONO, fontsize=7.2, va="center")
fig.text(fx(449), fy(672), "Ensemble GEFS du 24/01/2013 - 12h",
         family=MONO, fontsize=7.2, va="center")
fig.text(fx(449), fy(692), "Copyright 2013 Meteociel.fr",
         family=MONO, fontsize=8.3, fontweight="bold", va="center")

fig.savefig("out.png", dpi=100, facecolor="white")
